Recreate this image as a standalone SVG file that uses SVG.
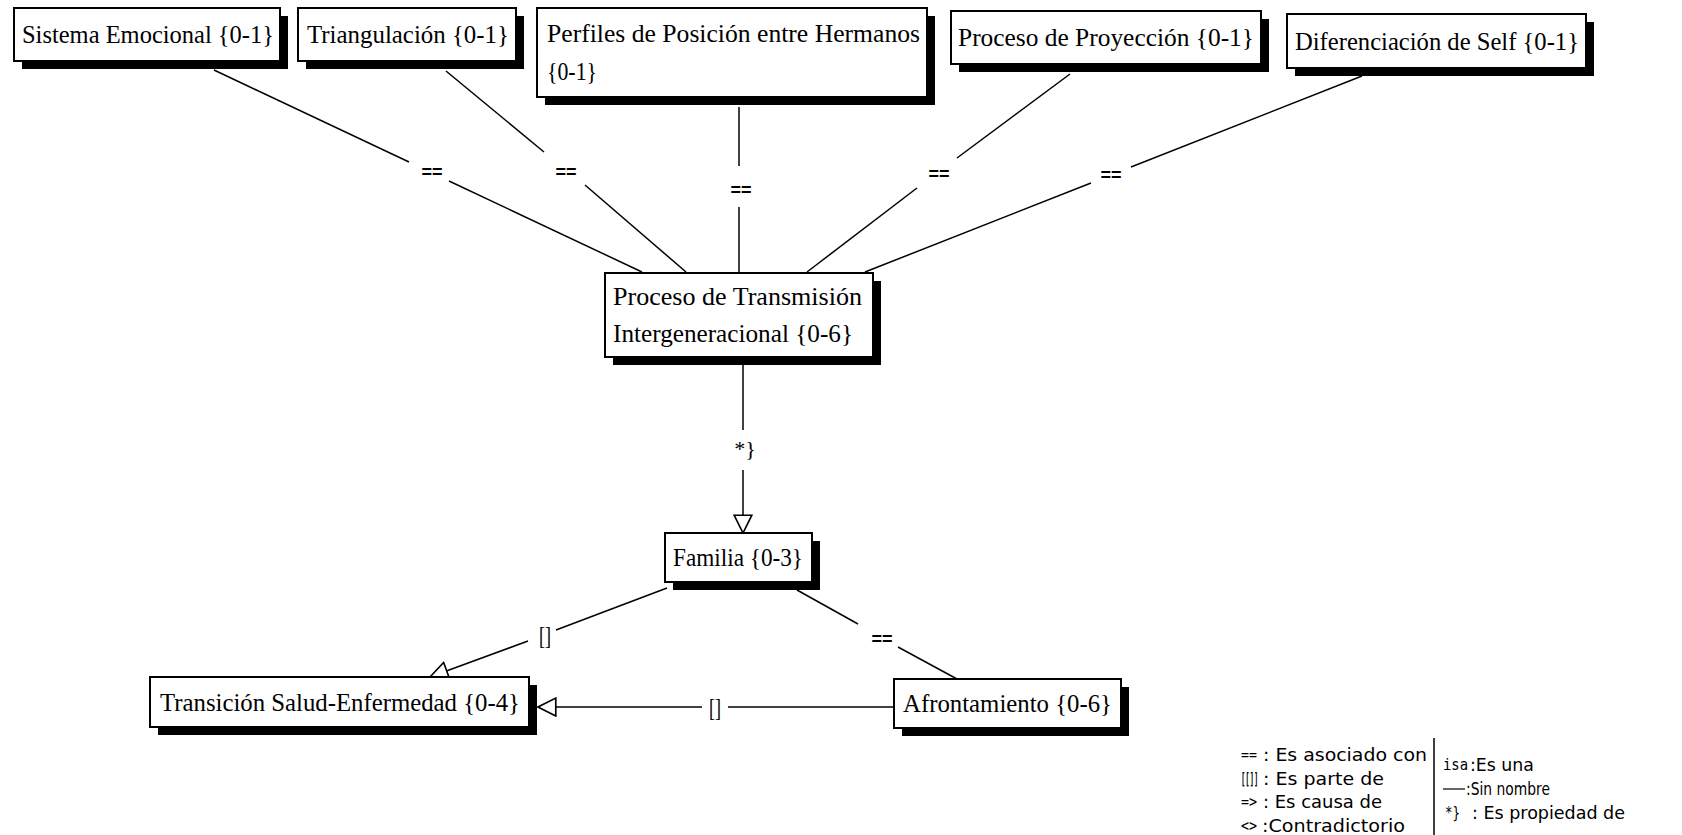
<svg xmlns="http://www.w3.org/2000/svg" width="1682" height="835" viewBox="0 0 1682 835">
<defs>
<style>
.box{fill:#fff;stroke:#000;stroke-width:2}
.sh{fill:#000}
.t{font-family:"Liberation Serif","Times New Roman",serif;font-size:26px;fill:#000}
.c{fill:none;stroke:#000;stroke-width:1.5}
.eq{font-family:"Liberation Sans",Arial,sans-serif;font-size:18px;font-weight:bold;fill:#000;text-anchor:middle}
.br{font-family:"Liberation Serif",serif;font-size:26px;fill:#000;text-anchor:middle}
.lg{font-family:"DejaVu Sans",Tahoma,sans-serif;font-size:18px;fill:#000}
.lm{font-family:"DejaVu Sans Mono","Liberation Mono",monospace;font-size:16px;fill:#000}
</style>
<marker id="tri" markerUnits="userSpaceOnUse" markerWidth="20" markerHeight="20" viewBox="0 0 18 18" refX="17" refY="9" orient="auto">
<path d="M1,1 L17,9 L1,17 Z" fill="#fff" stroke="#000" stroke-width="1.5"/>
</marker>
</defs>
<rect width="1682" height="835" fill="#fff"/>

<g id="connectors">
<polyline class="c" points="214,70 409,162"/>
<polyline class="c" points="449,181 642,272"/>
<text class="eq" x="432" y="178">==</text>

<polyline class="c" points="446,71 544,152"/>
<polyline class="c" points="585,185 686,272"/>
<text class="eq" x="566" y="178">==</text>

<polyline class="c" points="739,107 739,166"/>
<polyline class="c" points="739,207 739,273"/>
<text class="eq" x="741" y="196">==</text>

<polyline class="c" points="1070,74 957,158"/>
<polyline class="c" points="917,188 807,272"/>
<text class="eq" x="939" y="180">==</text>

<polyline class="c" points="1362,76 1131,167"/>
<polyline class="c" points="1091,183 865,272"/>
<text class="eq" x="1111" y="181">==</text>

<polyline class="c" points="743,365 743,430"/>
<polyline class="c" points="743,470 743,533" marker-end="url(#tri)"/>
<text x="745" y="456" font-family="Liberation Serif,serif" font-size="22" text-anchor="middle">*}</text>

<polyline class="c" points="667,588 556,630"/>
<polyline class="c" points="528,641 430,677" marker-end="url(#tri)"/>
<text class="br" x="545" y="644" textLength="12" lengthAdjust="spacingAndGlyphs">[]</text>

<polyline class="c" points="797,590 858,624"/>
<polyline class="c" points="898,647 957,679"/>
<text class="eq" x="882" y="645">==</text>

<polyline class="c" points="894,707 728,707"/>
<polyline class="c" points="702,707 538,707" marker-end="url(#tri)"/>
<text class="br" x="715" y="716" textLength="12" lengthAdjust="spacingAndGlyphs">[]</text>
</g>

<g id="n1">
<rect class="sh" x="22" y="16" width="266" height="53"/>
<rect class="box" x="14" y="8" width="266" height="53"/>
<text class="t" x="22" y="43" textLength="252" lengthAdjust="spacingAndGlyphs">Sistema Emocional {0-1}</text>
</g>
<g id="n2">
<rect class="sh" x="306" y="16" width="218" height="53"/>
<rect class="box" x="298" y="8" width="218" height="53"/>
<text class="t" x="307" y="43" textLength="202" lengthAdjust="spacingAndGlyphs">Triangulación {0-1}</text>
</g>
<g id="n3">
<rect class="sh" x="545" y="16" width="390" height="89"/>
<rect class="box" x="537" y="8" width="390" height="89"/>
<text class="t" x="547" y="42" textLength="373" lengthAdjust="spacingAndGlyphs">Perfiles de Posición entre Hermanos</text>
<text class="t" x="547" y="80" textLength="50" lengthAdjust="spacingAndGlyphs">{0-1}</text>
</g>
<g id="n4">
<rect class="sh" x="959" y="19" width="310" height="53"/>
<rect class="box" x="951" y="11" width="310" height="53"/>
<text class="t" x="958" y="46" textLength="296" lengthAdjust="spacingAndGlyphs">Proceso de Proyección {0-1}</text>
</g>
<g id="n5">
<rect class="sh" x="1295" y="22" width="299" height="54"/>
<rect class="box" x="1287" y="14" width="299" height="54"/>
<text class="t" x="1295" y="50" textLength="284" lengthAdjust="spacingAndGlyphs">Diferenciación de Self {0-1}</text>
</g>
<g id="n6">
<rect class="sh" x="613" y="281" width="268" height="84"/>
<rect class="box" x="605" y="273" width="268" height="84"/>
<text class="t" x="613" y="305" textLength="249" lengthAdjust="spacingAndGlyphs">Proceso de Transmisión</text>
<text class="t" x="613" y="342" textLength="240" lengthAdjust="spacingAndGlyphs">Intergeneracional {0-6}</text>
</g>
<g id="n7">
<rect class="sh" x="673" y="541" width="147" height="49"/>
<rect class="box" x="665" y="533" width="147" height="49"/>
<text class="t" x="673" y="566" textLength="130" lengthAdjust="spacingAndGlyphs">Familia {0-3}</text>
</g>
<g id="n8">
<rect class="sh" x="158" y="685" width="379" height="50"/>
<rect class="box" x="150" y="677" width="379" height="50"/>
<text class="t" x="160" y="711" textLength="360" lengthAdjust="spacingAndGlyphs">Transición Salud-Enfermedad {0-4}</text>
</g>
<g id="n9">
<rect class="sh" x="902" y="687" width="227" height="49"/>
<rect class="box" x="894" y="679" width="227" height="49"/>
<text class="t" x="903" y="712" textLength="209" lengthAdjust="spacingAndGlyphs">Afrontamiento {0-6}</text>
</g>

<g id="legend">
<text class="lm" x="1241" y="760" textLength="16" lengthAdjust="spacingAndGlyphs">==</text>
<text class="lg" x="1263" y="761" textLength="164" lengthAdjust="spacingAndGlyphs">: Es asociado con</text>
<text class="lm" transform="translate(1241,784) scale(0.45,1)" x="0" y="0" font-weight="bold">[[]]</text>
<text class="lg" x="1263" y="785" textLength="121" lengthAdjust="spacingAndGlyphs">: Es parte de</text>
<text class="lm" x="1241" y="807" textLength="16" lengthAdjust="spacingAndGlyphs">=&gt;</text>
<text class="lg" x="1263" y="808" textLength="119" lengthAdjust="spacingAndGlyphs">: Es causa de</text>
<text class="lm" x="1241" y="831" textLength="16" lengthAdjust="spacingAndGlyphs">&lt;&gt;</text>
<text class="lg" x="1262" y="832" textLength="143" lengthAdjust="spacingAndGlyphs">:Contradictorio</text>
<line x1="1434" y1="738" x2="1434" y2="835" stroke="#000" stroke-width="1.5"/>
<text class="lm" x="1443" y="770" textLength="25" lengthAdjust="spacingAndGlyphs">isa</text>
<text class="lg" x="1470" y="771" textLength="64" lengthAdjust="spacingAndGlyphs">:Es una</text>
<line x1="1443" y1="789" x2="1465" y2="789" stroke="#000" stroke-width="1.2"/>
<text class="lg" x="1466" y="795" textLength="84" lengthAdjust="spacingAndGlyphs">:Sin nombre</text>
<text class="lm" x="1445" y="818" textLength="15" lengthAdjust="spacingAndGlyphs">*}</text>
<text class="lg" x="1472" y="819" textLength="153" lengthAdjust="spacingAndGlyphs">: Es propiedad de</text>
</g>
</svg>
